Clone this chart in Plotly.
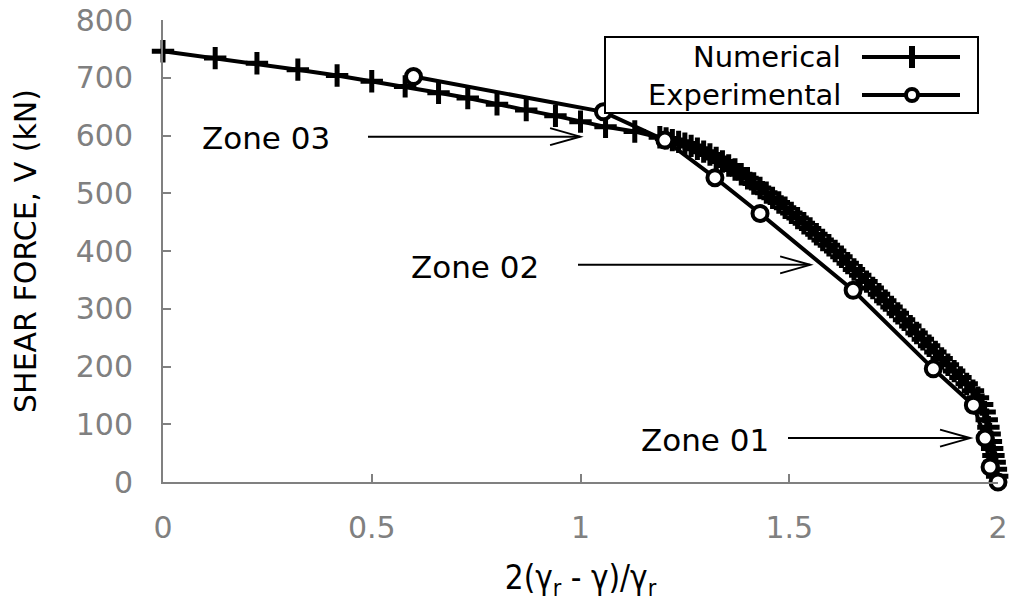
import plotly.graph_objects as go

# ---- data ----
num_x = [0.0, 0.125, 0.225, 0.323, 0.417, 0.50, 0.58, 0.66, 0.73, 0.80, 0.87, 0.94, 1.00, 1.06,
         1.13, 1.19, 1.205, 1.22, 1.235, 1.25, 1.265, 1.28, 1.295, 1.31, 1.325,
         1.34, 1.355, 1.37, 1.385, 1.40, 1.415, 1.43, 1.445, 1.46, 1.475, 1.49, 1.505, 1.52, 1.535,
         1.55, 1.565, 1.58, 1.595, 1.61, 1.625, 1.64, 1.655, 1.67, 1.685, 1.70, 1.715, 1.73, 1.745,
         1.76, 1.775, 1.79, 1.805, 1.82, 1.835, 1.85, 1.865, 1.88, 1.895, 1.91, 1.925, 1.94, 1.952,
         1.962, 1.968, 1.973, 1.977, 1.980, 1.983, 1.986, 1.989, 1.992, 1.995, 1.998]
num_v = [746, 734, 725, 714, 704, 694, 685, 674, 665, 654, 644, 634, 624, 615,
         607, 597, 595, 592, 589, 586, 582, 577, 572, 567, 561,
         555, 548, 541, 533, 526, 517, 509, 501, 492, 484, 475, 466, 457, 448,
         439, 429, 419, 410, 400, 390, 379, 368, 358, 347, 336, 325, 314, 303,
         292, 281, 270, 258, 247, 236, 225, 214, 203, 192, 181, 170, 158, 146,
         134, 121, 108, 95, 83, 70, 58, 46, 34, 22, 10]

exp_x = [0.60, 1.055, 1.202, 1.322, 1.43, 1.653, 1.845, 1.941, 1.969, 1.981, 2.0]
exp_v = [702, 641, 592, 527, 465, 332, 196, 133, 76, 26, 0]

x_ticks = [0, 0.5, 1, 1.5, 2]
x_tick_labels = ["0", "0.5", "1", "1.5", "2"]
y_ticks = [0, 100, 200, 300, 400, 500, 600, 700, 800]

series_names = ["Numerical", "Experimental"]

# zone annotations
zone_labels = ["Zone 03", "Zone 02", "Zone 01"]
zone_text_x = [0.246, 0.747, 1.298]
zone_text_y = [596, 373, 73]
zone_arrow_x0 = [0.491, 0.994, 1.497]
zone_arrow_x1 = [0.999, 1.550, 1.933]
zone_arrow_y = [598, 376, 76]

FONT = "DejaVu Sans"
GRAY = "#808080"

fig = go.Figure()

fig.add_trace(go.Scatter(
    x=num_x, y=num_v, mode="lines+markers", name=series_names[0],
    line=dict(color="black", width=4),
    marker=dict(symbol="cross-thin", size=16, line=dict(color="black", width=5)),
    cliponaxis=False, showlegend=False))

fig.add_trace(go.Scatter(
    x=exp_x, y=exp_v, mode="lines+markers", name=series_names[1],
    line=dict(color="black", width=4),
    marker=dict(symbol="circle", size=15, color="white", line=dict(color="black", width=4)),
    cliponaxis=False, showlegend=False))

shapes = []
annotations = []

for lab, tx, ty, ax0, ax1, ay in zip(zone_labels, zone_text_x, zone_text_y,
                                     zone_arrow_x0, zone_arrow_x1, zone_arrow_y):
    annotations.append(dict(x=tx, y=ty, xref="x", yref="y", text=lab, showarrow=False,
                            font=dict(family=FONT, size=31, color="black")))
    shapes.append(dict(type="line", xref="x", yref="y", x0=ax0, x1=ax1, y0=ay, y1=ay,
                       line=dict(color="black", width=2)))
    back = ax1 - 30 / 417.5
    dv = 8.5 / 0.5775
    shapes.append(dict(type="path", xref="x", yref="y",
                       path=f"M{back},{ay + dv} L{ax1},{ay} L{back},{ay - dv}",
                       line=dict(color="black", width=2)))

def px_x(p):
    return (p - 163) / 835.0

def px_y(p):
    return (482 - p) / 462.0

shapes.append(dict(type="rect", xref="paper", yref="paper",
                   x0=px_x(605), x1=px_x(978), y0=px_y(113), y1=px_y(37),
                   line=dict(color="black", width=2), fillcolor="white", layer="above"))
rows = [57, 95]
for name, ry in zip(series_names, rows):
    annotations.append(dict(x=px_x(843), y=px_y(ry), xref="paper", yref="paper",
                            xanchor="right", yanchor="middle", text=name, showarrow=False,
                            font=dict(family=FONT, size=29, color="black")))
    shapes.append(dict(type="line", xref="paper", yref="paper",
                       x0=px_x(862), x1=px_x(960), y0=px_y(ry), y1=px_y(ry),
                       line=dict(color="black", width=4), layer="above"))
shapes.append(dict(type="line", xref="paper", yref="paper",
                   x0=px_x(912), x1=px_x(912), y0=px_y(rows[0] + 11), y1=px_y(rows[0] - 11),
                   line=dict(color="black", width=6), layer="above"))
shapes.append(dict(type="circle", xref="paper", yref="paper",
                   xsizemode="pixel", ysizemode="pixel",
                   xanchor=px_x(912), yanchor=px_y(rows[1]),
                   x0=-6, x1=6, y0=-6, y1=6,
                   line=dict(color="black", width=4), fillcolor="white", layer="above"))

fig.update_layout(
    width=1009, height=603,
    margin=dict(l=163, r=11, t=20, b=121, autoexpand=False),
    paper_bgcolor="white", plot_bgcolor="white",
    font=dict(family=FONT, size=30, color=GRAY),
    shapes=shapes, annotations=annotations,
    showlegend=False,
)

fig.update_xaxes(
    range=[0, 2], tickvals=x_ticks, ticktext=x_tick_labels, automargin=False,
    showline=True, linecolor=GRAY, linewidth=2, mirror=False,
    ticks="inside", ticklen=8, tickwidth=2, tickcolor=GRAY,
    ticklabelstandoff=18, showgrid=False, zeroline=False,
    tickfont=dict(family=FONT, size=30, color=GRAY),
    title=dict(text="2(γ<sub>r</sub> - γ)/γ<sub>r</sub>", standoff=22,
               font=dict(family="DejaVu Sans Condensed", size=33, color="black")),
)
fig.update_yaxes(
    range=[0, 800], tickvals=y_ticks, automargin=False,
    showline=True, linecolor=GRAY, linewidth=2, mirror=False,
    ticks="inside", ticklen=8, tickwidth=2, tickcolor=GRAY,
    ticklabelstandoff=22, showgrid=False, zeroline=False,
    tickfont=dict(family=FONT, size=30, color=GRAY),
    title=dict(text="SHEAR FORCE, V (kN)", standoff=30,
               font=dict(family=FONT, size=30, color="black")),
)

fig.write_html("out.html")
